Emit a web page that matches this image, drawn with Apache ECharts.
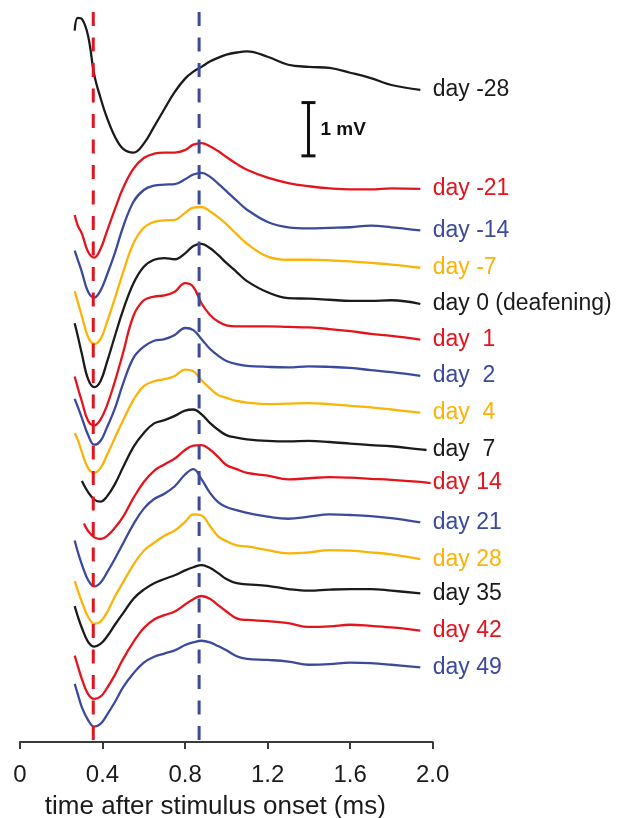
<!DOCTYPE html>
<html>
<head>
<meta charset="utf-8">
<title>Evoked response waveforms by day</title>
<script src="https://cdn.jsdelivr.net/npm/echarts@6/dist/echarts.min.js"></script>
<style>
  html, body { margin: 0; padding: 0; background: #ffffff; }
  #chart { width: 626px; height: 818px; }
</style>
</head>
<body>
<div id="chart"></div>
<script>
// Sample times (ms after stimulus onset) shared by all waveforms
const times = [0.265, 0.28, 0.30, 0.31, 0.33, 0.36, 0.39, 0.42, 0.46, 0.50, 0.55,
  0.60, 0.65, 0.70, 0.75, 0.80, 0.84, 0.88, 0.92, 0.96, 1.00, 1.05, 1.10,
  1.20, 1.30, 1.40, 1.50, 1.60, 1.70, 1.80, 1.94, 1.97, 1.99];

// Waveforms in mV relative to each trace's end level (null = not recorded)
const dayM28 = [1.11, 1.35, 1.33, null, 1.01, 0.28, -0.15, -0.51, -0.88, -1.11, -1.18, -1.01, -0.69, -0.36, -0.04, 0.21, 0.34, 0.43, 0.53, 0.60, 0.66, 0.70, 0.72, 0.62, 0.47, 0.43, 0.41, 0.32, 0.22, 0.09, 0, null, null];
const dayM21 = [-0.49, -0.69, -0.84, null, -1.18, -1.29, -1.13, -0.81, -0.38, 0.02, 0.38, 0.58, 0.66, 0.68, 0.68, 0.73, 0.83, 0.86, 0.80, 0.71, 0.60, 0.47, 0.36, 0.21, 0.11, 0.05, 0.01, -0.01, -0.01, 0.01, 0, null, null];
const dayM14 = [-0.38, -0.55, -0.78, null, -1.15, -1.26, -1.13, -0.85, -0.42, 0.07, 0.54, 0.76, 0.84, 0.86, 0.87, 0.96, 1.05, 1.08, 1.01, 0.88, 0.74, 0.56, 0.39, 0.16, 0.06, 0.04, 0.05, 0.06, 0.09, 0.06, 0, null, null];
const dayM7 = [-0.44, -0.64, -0.91, null, -1.30, -1.43, -1.34, -1.04, -0.57, -0.08, 0.46, 0.75, 0.86, 0.89, 0.90, 1.03, 1.13, 1.14, 1.06, 0.95, 0.82, 0.63, 0.45, 0.21, 0.15, 0.15, 0.14, 0.12, 0.09, 0.06, 0, null, null];
const day0 = [-0.36, -0.60, -0.94, null, -1.41, -1.56, -1.45, -1.11, -0.60, -0.11, 0.39, 0.70, 0.83, 0.86, 0.84, 0.95, 1.09, 1.13, 1.05, 0.92, 0.77, 0.60, 0.43, 0.22, 0.11, 0.10, 0.08, 0.06, 0.06, 0.07, 0, null, null];
const day1 = [-0.69, -0.90, -1.16, null, -1.52, -1.61, -1.50, -1.25, -0.78, -0.24, 0.45, 0.74, 0.81, 0.83, 0.90, 1.06, 0.99, 0.68, 0.47, 0.34, 0.27, 0.25, 0.25, 0.25, 0.24, 0.23, 0.20, 0.16, 0.11, 0.07, 0, null, null];
const day2 = [-0.43, -0.58, -0.79, null, -1.11, -1.29, -1.22, -0.98, -0.61, -0.14, 0.34, 0.55, 0.66, 0.69, 0.77, 0.90, 0.86, 0.69, 0.51, 0.38, 0.28, 0.22, 0.19, 0.17, 0.16, 0.18, 0.17, 0.15, 0.11, 0.07, 0, null, null];
const day4 = [-0.38, -0.51, -0.74, null, -1.04, -1.13, -1.04, -0.81, -0.47, -0.14, 0.24, 0.50, 0.59, 0.63, 0.69, 0.81, 0.78, 0.61, 0.46, 0.33, 0.28, 0.22, 0.19, 0.16, 0.17, 0.18, 0.16, 0.13, 0.10, 0.06, 0, null, null];
const day7 = [null, null, -0.58, null, -0.79, -0.93, -0.97, -0.88, -0.64, -0.32, 0.06, 0.32, 0.50, 0.56, 0.64, 0.74, 0.76, 0.67, 0.51, 0.38, 0.28, 0.23, 0.20, 0.17, 0.16, 0.17, 0.15, 0.12, 0.09, 0.07, 0.01, 0, null];
const day14 = [null, null, null, -0.76, -0.90, -1.02, -1.05, -1.00, -0.84, -0.63, -0.28, 0.02, 0.23, 0.35, 0.46, 0.62, 0.70, 0.71, 0.63, 0.49, 0.34, 0.26, 0.19, 0.14, 0.07, 0.09, 0.11, 0.10, 0.08, 0.06, 0.02, null, 0];
const day21 = [-0.34, -0.55, -0.79, null, -1.08, -1.20, -1.13, -0.95, -0.68, -0.39, -0.03, 0.26, 0.44, 0.54, 0.68, 0.90, 1.00, 0.81, 0.56, 0.38, 0.29, 0.23, 0.18, 0.11, 0.07, 0.11, 0.15, 0.14, 0.12, 0.08, 0, null, null];
const day28 = [-0.41, -0.58, -0.80, null, -1.08, -1.21, -1.17, -1.01, -0.70, -0.43, -0.10, 0.16, 0.31, 0.44, 0.54, 0.70, 0.84, 0.82, 0.63, 0.43, 0.34, 0.26, 0.24, 0.17, 0.11, 0.13, 0.17, 0.16, 0.13, 0.09, 0, null, null];
const day35 = [-0.24, -0.43, -0.65, null, -0.91, -1.00, -0.95, -0.82, -0.59, -0.37, -0.10, 0.07, 0.19, 0.27, 0.34, 0.43, 0.49, 0.53, 0.48, 0.38, 0.27, 0.19, 0.17, 0.14, 0.08, 0.05, 0.07, 0.08, 0.08, 0.05, 0, null, null];
const day42 = [-0.47, -0.66, -0.91, null, -1.19, -1.28, -1.24, -1.09, -0.83, -0.53, -0.21, 0.05, 0.21, 0.29, 0.36, 0.49, 0.59, 0.65, 0.60, 0.48, 0.36, 0.23, 0.20, 0.18, 0.14, 0.07, 0.08, 0.11, 0.09, 0.06, 0, null, null];
const day49 = [-0.31, -0.50, -0.75, null, -0.99, -1.11, -1.06, -0.90, -0.65, -0.37, -0.11, 0.09, 0.20, 0.26, 0.32, 0.42, 0.47, 0.50, 0.47, 0.40, 0.32, 0.21, 0.16, 0.14, 0.11, 0.05, 0.06, 0.09, 0.08, 0.05, 0, null, null];

const traceLabels = ['day -28', 'day -21', 'day -14', 'day -7', 'day 0 (deafening)', 'day  1', 'day  2',
  'day  4', 'day  7', 'day 14', 'day 21', 'day 28', 'day 35', 'day 42', 'day 49'];
// Vertical stacking offset of each trace (mV)
const traceOffsets = [12.24, 10.38, 9.60, 8.90, 8.22, 7.55, 6.87, 6.18, 5.48, 4.86, 4.12, 3.43, 2.79, 2.09, 1.40];

// Reference latencies marked with dashed lines (ms)
const markerTimes = [0.355, 0.868];

// Voltage scale bar
const scaleBarMs = 1.398;
const scaleBarBaseMv = 11.0;
const scaleBarMv = 1;

const xTicks = [0, 0.4, 0.8, 1.2, 1.6, 2.0];

const traces = [dayM28, dayM21, dayM14, dayM7, day0, day1, day2, day4, day7, day14, day21, day28, day35, day42, day49];

const RED = '#e4141d', BLUE = '#3b4a9c', ORANGE = '#fbb308', BLACK = '#1b1b1b';
const traceColors = [BLACK, RED, BLUE, ORANGE];
const markerColors = [RED, BLUE];
const FONT = 'Liberation Sans';
const Y_MAX = 13.7;

const series = [];

traces.forEach((vals, k) => {
  const color = traceColors[k % 4];
  const pts = [];
  vals.forEach((v, i) => { if (v !== null) pts.push([times[i], v + traceOffsets[k]]); });
  series.push({
    type: 'line',
    name: traceLabels[k],
    data: pts,
    smooth: 0.4,
    symbol: 'none',
    silent: true,
    lineStyle: { color: color, width: 2.3 },
    z: 2
  });
  // label at the right edge, level with the trace end
  const last = pts[pts.length - 1];
  series.push({
    type: 'scatter',
    data: [[2.0, last[1]]],
    symbolSize: 0,
    silent: true,
    itemStyle: { opacity: 1 },
    label: {
      show: true,
      position: 'right',
      distance: 0,
      formatter: traceLabels[k],
      color: color,
      opacity: 1,
      fontFamily: FONT,
      fontSize: 23
    },
    z: 3
  });
});

markerTimes.forEach((t, i) => {
  series.push({
    type: 'line',
    data: [[t, Y_MAX], [t, 0]],
    symbol: 'none',
    silent: true,
    lineStyle: { color: markerColors[i], width: 3, type: [14, 11.5] },
    z: 5
  });
});

series.push({
  type: 'custom',
  silent: true,
  data: [[scaleBarMs, scaleBarBaseMv]],
  renderItem: function (params, api) {
    const bot = api.coord([api.value(0), api.value(1)]);
    const top = api.coord([api.value(0), api.value(1) + scaleBarMv]);
    const cap = 7;
    const st = { stroke: '#111111', lineWidth: 3 };
    return {
      type: 'group',
      children: [
        { type: 'line', shape: { x1: top[0], y1: top[1], x2: bot[0], y2: bot[1] }, style: st },
        { type: 'line', shape: { x1: top[0] - cap, y1: top[1], x2: top[0] + cap, y2: top[1] }, style: st },
        { type: 'line', shape: { x1: bot[0] - cap, y1: bot[1], x2: bot[0] + cap, y2: bot[1] }, style: st },
        {
          type: 'text',
          style: {
            text: scaleBarMv + ' mV',
            x: top[0] + 12,
            y: (top[1] + bot[1]) / 2 + 1,
            verticalAlign: 'middle',
            align: 'left',
            fontFamily: FONT,
            fontWeight: 'bold',
            fontSize: 19,
            fill: '#111111'
          }
        }
      ]
    };
  },
  z: 4
});

const chart = echarts.init(document.getElementById('chart'), null, { renderer: 'canvas' });
chart.setOption({
  animation: false,
  backgroundColor: '#ffffff',
  grid: { left: 20, right: 193.3, top: 12, bottom: 76, containLabel: false, outerBoundsMode: 'none' },
  xAxis: {
    type: 'value',
    min: 0,
    max: 2.0,
    interval: 0.4,
    name: 'time after stimulus onset (ms)',
    nameLocation: 'middle',
    nameGap: 52,
    nameTextStyle: { fontFamily: FONT, fontSize: 26, color: '#1b1b1b', padding: [0, 22, 0, 0] },
    axisLine: { show: true, onZero: false, lineStyle: { color: '#3a3a3a', width: 2 } },
    axisTick: { show: true, inside: false, length: 7, lineStyle: { color: '#3a3a3a', width: 2 } },
    axisLabel: {
      margin: 21,
      fontFamily: FONT,
      fontSize: 24,
      color: '#1b1b1b',
      formatter: function (v) {
        const hit = xTicks.find(t => Math.abs(t - v) < 1e-9);
        if (hit === undefined) return '';
        return hit === 0 ? '0' : hit.toFixed(1);
      }
    },
    splitLine: { show: false }
  },
  yAxis: {
    type: 'value',
    min: 0,
    max: Y_MAX,
    show: false,
    splitLine: { show: false }
  },
  series: series
});
</script>
</body>
</html>
